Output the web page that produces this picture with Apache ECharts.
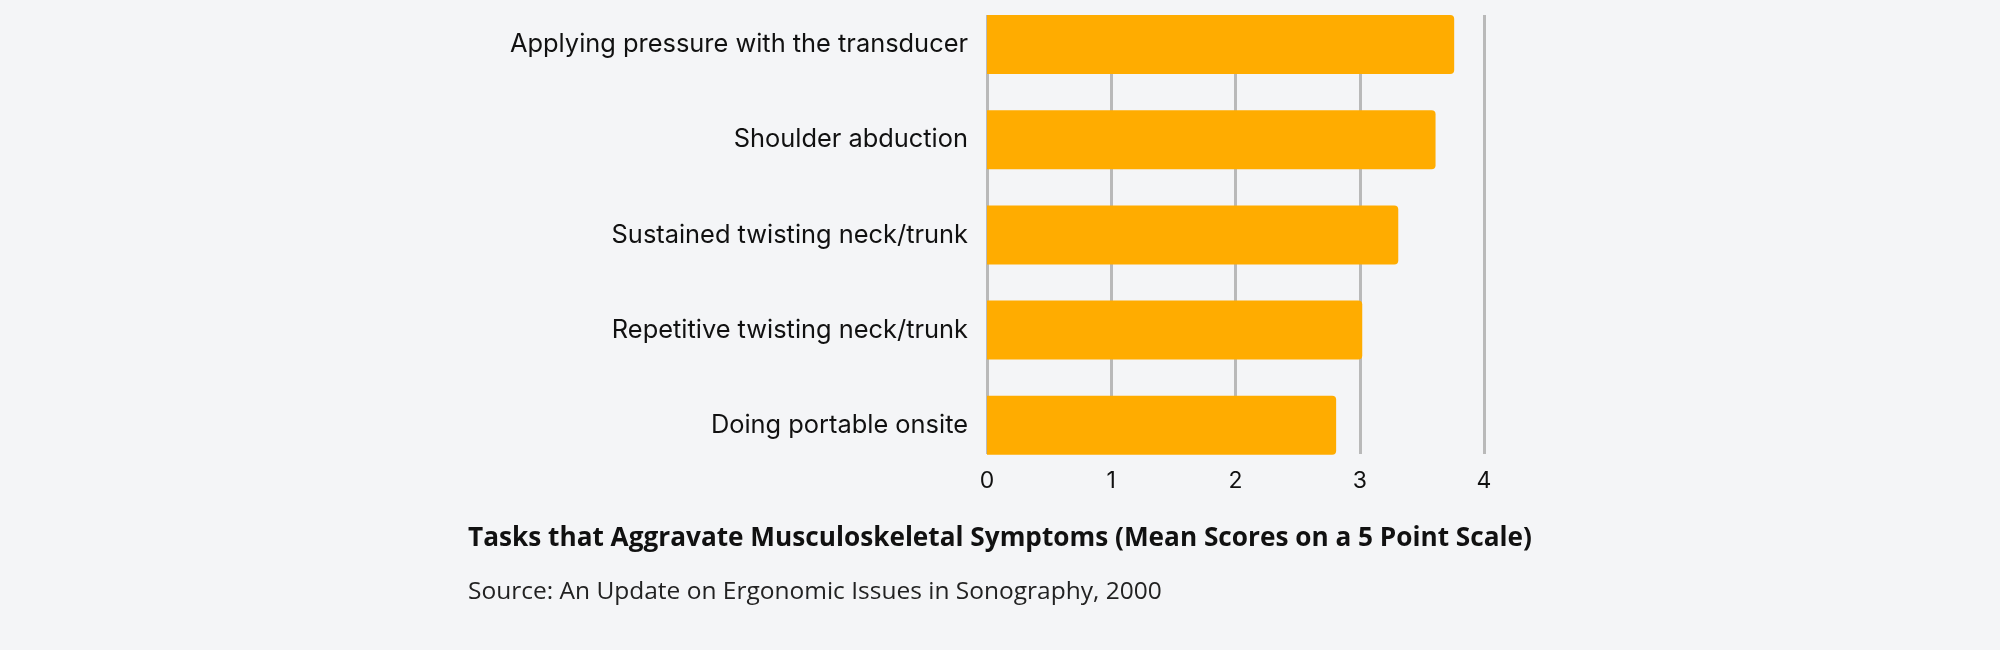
<!DOCTYPE html>
<html>
<head>
<meta charset="utf-8">
<script src="https://cdn.jsdelivr.net/npm/echarts@6/dist/echarts.min.js"></script>
<style>
html,body{margin:0;padding:0;background:#f4f5f7;}
#chart{width:2000px;height:650px;}
</style>
</head>
<body>
<div id="chart"></div>
<script>
const categories = [
  "Applying pressure with the transducer",
  "Shoulder abduction",
  "Sustained twisting neck/trunk",
  "Repetitive twisting neck/trunk",
  "Doing portable onsite"
];
const meanScores = [3.76, 3.61, 3.31, 3.02, 2.81];
const xTicks = [0, 1, 2, 3, 4];
const titleText = "Tasks that Aggravate Musculoskeletal Symptoms (Mean Scores on a 5 Point Scale)";
const sourceText = "Source: An Update on Ergonomic Issues in Sonography, 2000";

const chart = echarts.init(document.getElementById('chart'));
const labelFont = "Inter, 'Noto Sans', sans-serif";
const textFont = "'Open Sans', Roboto, sans-serif";
chart.setOption({
  backgroundColor: '#f4f5f7',
  animation: false,
  title: [
    {
      text: titleText, left: 468, top: 526, padding: 0,
      textStyle: {fontFamily: textFont, fontWeight: 'bold', fontSize: 26.2, color: '#111111'}
    },
    {
      text: sourceText, left: 468, top: 580, padding: 0,
      textStyle: {fontFamily: textFont, fontWeight: 'normal', fontSize: 24.5, color: '#222222'}
    }
  ],
  grid: [
    {left: 987, top: 44.5, width: 497, height: 380.8},
    {left: 987, top: 15, width: 497, height: 439}
  ],
  xAxis: [
    {type: 'value', gridIndex: 0, min: 0, max: 4, show: false},
    {
      type: 'value', gridIndex: 1, min: xTicks[0], max: xTicks[xTicks.length - 1], interval: 1,
      axisLine: {show: false}, axisTick: {show: false},
      axisLabel: {margin: 16, fontFamily: labelFont, fontSize: 23, color: '#111111'},
      splitLine: {show: true, lineStyle: {color: '#b9b9b9', width: 3}}
    }
  ],
  yAxis: [
    {
      type: 'category', gridIndex: 0, data: categories, inverse: true, boundaryGap: false,
      axisLine: {show: false}, axisTick: {show: false},
      axisLabel: {margin: 19, fontFamily: labelFont, fontSize: 25.4, color: '#111111'}
    },
    {type: 'value', gridIndex: 1, show: false, min: 0, max: 1}
  ],
  series: [
    {
      type: 'bar', xAxisIndex: 0, yAxisIndex: 0, data: meanScores, barWidth: 59,
      itemStyle: {color: '#ffac00', borderRadius: [0, 4, 4, 0]}, z: 3
    }
  ]
});
</script>
</body>
</html>
